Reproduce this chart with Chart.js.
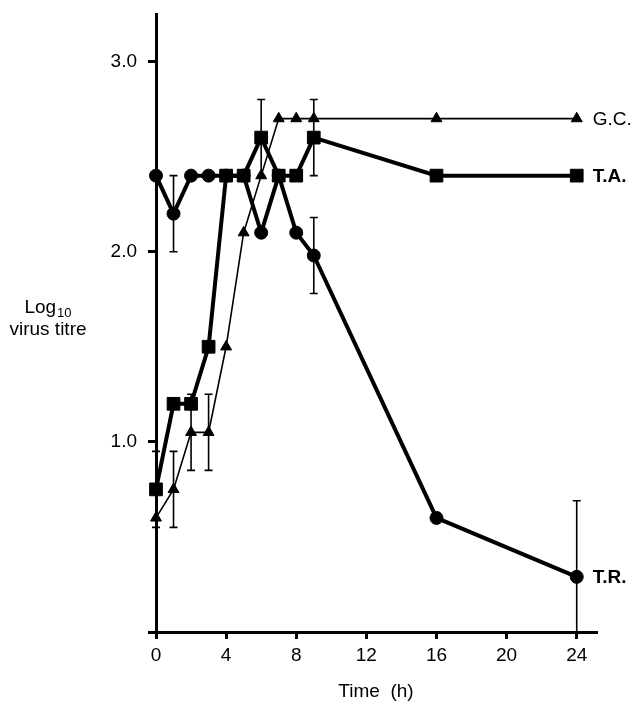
<!DOCTYPE html>
<html>
<head>
<meta charset="utf-8">
<script src="https://cdn.jsdelivr.net/npm/chart.js@4/dist/chart.umd.min.js"></script>
<style>
  html, body { margin: 0; padding: 0; background: #fff; }
  #wrap { width: 632px; height: 702px; }
</style>
</head>
<body>
<div id="wrap"><canvas id="c" width="632" height="702"></canvas></div>
<script>
// ---- data ----
const hours = [0, 1, 2, 3, 4, 5, 6, 7, 8, 9, 16, 24];
const trValues = [2.4, 2.2, 2.4, 2.4, 2.4, 2.4, 2.1, 2.4, 2.1, 1.98, 0.6, 0.29];
const taValues = [0.75, 1.2, 1.2, 1.5, 2.4, 2.4, 2.6, 2.4, 2.4, 2.6, 2.4, 2.4];
const gcValues = [0.6, 0.75, 1.05, 1.05, 1.5, 2.1, 2.4, 2.7, 2.7, 2.7, 2.7, 2.7];
const trErrors = [null, 0.2, null, null, null, null, null, null, null, 0.2, null, 0.4];
const taErrors = [0.2, null, null, null, null, null, 0.2, null, null, 0.2, null, null];
const gcErrors = [null, 0.2, 0.2, 0.2, null, null, null, null, null, null, null, null];
const seriesNames = ['T.R.', 'T.A.', 'G.C.'];
const xTicks = [0, 4, 8, 12, 16, 20, 24];
const yTicks = [0, 1, 2, 3];
const yTickLabels = ['', '1.0', '2.0', '3.0'];
const xTitle = 'Time  (h)';
const yTitleMain = 'Log';
const yTitleSub = '10';
const yTitleLine2 = 'virus titre';

const FONT = '"Liberation Sans", Arial, Helvetica, sans-serif';
Chart.defaults.font.family = FONT;
Chart.defaults.color = '#000';

const toPts = vals => hours.map((h, i) => ({ x: h, y: vals[i] }));

const errorBars = [trErrors, taErrors, gcErrors];
const valueSets = [trValues, taValues, gcValues];

const errorPlugin = {
  id: 'errorBars',
  beforeDatasetsDraw(chart) {
    const ctx = chart.ctx, xs = chart.scales.x, ys = chart.scales.y;
    ctx.save();
    ctx.strokeStyle = '#000';
    ctx.lineWidth = 1.6;
    valueSets.forEach((vals, s) => {
      errorBars[s].forEach((e, i) => {
        if (e == null) return;
        const x = xs.getPixelForValue(hours[i]);
        const hi = vals[i] + e, lo = vals[i] - e;
        const yTop = ys.getPixelForValue(hi);
        const clipped = lo < ys.min;
        const yBot = ys.getPixelForValue(Math.max(lo, ys.min));
        ctx.beginPath();
        ctx.moveTo(x, yTop); ctx.lineTo(x, yBot);
        ctx.moveTo(x - 4, yTop); ctx.lineTo(x + 4, yTop);
        if (!clipped) { ctx.moveTo(x - 4, yBot); ctx.lineTo(x + 4, yBot); }
        ctx.stroke();
      });
    });
    ctx.restore();
  }
};

const labelPlugin = {
  id: 'endLabels',
  afterDatasetsDraw(chart) {
    const ctx = chart.ctx;
    ctx.save();
    ctx.fillStyle = '#000';
    ctx.textBaseline = 'middle';
    ctx.textAlign = 'left';
    chart.data.datasets.forEach((ds, di) => {
      const meta = chart.getDatasetMeta(di);
      const last = meta.data[meta.data.length - 1];
      ctx.font = (ds.label === 'G.C.' ? '' : 'bold ') + '19px ' + FONT;
      ctx.fillText(ds.label, last.x + 16, last.y + 1);
    });
    // y axis title (horizontal, with subscript)
    const ca = chart.chartArea;
    const cx = ca.left - 108;
    const base1 = ca.top + 299;
    ctx.textBaseline = 'alphabetic';
    ctx.font = '19px ' + FONT;
    const w1 = ctx.measureText(yTitleMain).width;
    ctx.font = '13px ' + FONT;
    const w2 = ctx.measureText(yTitleSub).width;
    const start = cx - (w1 + w2 + 1) / 2;
    ctx.font = '19px ' + FONT;
    ctx.fillText(yTitleMain, start, base1);
    ctx.font = '13px ' + FONT;
    ctx.fillText(yTitleSub, start + w1 + 1, base1 + 4);
    ctx.font = '19px ' + FONT;
    ctx.textAlign = 'center';
    ctx.fillText(yTitleLine2, cx, base1 + 22);
    ctx.restore();
  }
};

new Chart(document.getElementById('c'), {
  type: 'scatter',
  data: {
    datasets: [
      {
        label: seriesNames[0], data: toPts(trValues), showLine: true,
        borderColor: '#000', backgroundColor: '#000', borderWidth: 4,
        pointStyle: 'circle', pointRadius: 6.5, pointBorderWidth: 1,
        pointBackgroundColor: '#000', pointBorderColor: '#000',
        tension: 0, clip: false, order: 2
      },
      {
        label: seriesNames[1], data: toPts(taValues), showLine: true,
        borderColor: '#000', backgroundColor: '#000', borderWidth: 4,
        pointStyle: 'rect', pointRadius: 9, pointBorderWidth: 1,
        pointBackgroundColor: '#000', pointBorderColor: '#000',
        tension: 0, clip: false, order: 1
      },
      {
        label: seriesNames[2], data: toPts(gcValues), showLine: true,
        borderColor: '#000', backgroundColor: '#000', borderWidth: 1.6,
        pointStyle: 'triangle', pointRadius: 6.3, pointBorderWidth: 1,
        pointBackgroundColor: '#000', pointBorderColor: '#000',
        tension: 0, clip: false, order: 3
      }
    ]
  },
  options: {
    responsive: false,
    animation: false,
    devicePixelRatio: 1,
    layout: { padding: { top: 14, right: 36, left: 0, bottom: 0 } },
    plugins: { legend: { display: false }, tooltip: { enabled: false } },
    scales: {
      x: {
        type: 'linear', min: 0, max: 25.1,
        afterBuildTicks: s => { s.ticks = xTicks.map(v => ({ value: v })); },
        afterFit: s => { s.height = 70; s.paddingLeft = 0; s.paddingRight = 0; },
        ticks: { font: { size: 19 }, color: '#000', padding: 5, maxRotation: 0, autoSkip: false,
                 callback: v => String(v) },
        grid: { drawOnChartArea: false, tickLength: 7, lineWidth: 3, color: '#000' },
        border: { width: 3, color: '#000' },
        title: { display: true, text: xTitle, font: { size: 19 }, color: '#000', padding: { top: 0, bottom: -1 } }
      },
      y: {
        type: 'linear', min: 0, max: 3.25,
        afterBuildTicks: s => { s.ticks = yTicks.map(v => ({ value: v })); },
        afterFit: s => { s.width = 156; s.paddingTop = 0; s.paddingBottom = 0; },
        ticks: { font: { size: 19 }, color: '#000', padding: 11,
                 callback: v => yTickLabels[yTicks.indexOf(v)] },
        grid: { drawOnChartArea: false, tickLength: 8, lineWidth: 3, color: '#000' },
        border: { width: 3, color: '#000' }
      }
    }
  },
  plugins: [errorPlugin, labelPlugin]
});
</script>
</body>
</html>
